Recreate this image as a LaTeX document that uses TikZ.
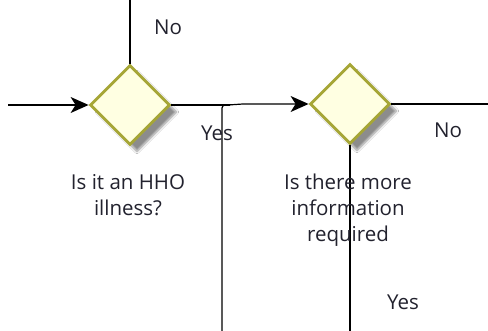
\documentclass[tikz,border=0pt]{standalone}
\usepackage{fontspec}
\setmainfont{Open Sans}
\usetikzlibrary{shapes.geometric,arrows.meta,shadows.blur}
\definecolor{dfill}{HTML}{FFFFE2}
\definecolor{dline}{HTML}{A6A636}
\definecolor{txt}{HTML}{22222E}
\tikzset{
  decision/.style={diamond,draw=dline,fill=dfill,line width=2.8pt,minimum width=80pt,minimum height=80pt,inner sep=0pt,
     blur shadow={shadow xshift=7pt,shadow yshift=-7pt,shadow blur steps=8,shadow opacity=45}},
  flow/.style={draw=black,line width=1.2pt},
  arr/.style={flow,-{Stealth[length=18pt,width=16pt,inset=5pt]}},
  lbl/.style={text=txt,font=\fontsize{20.5}{26}\selectfont,align=center,inner sep=0pt},
}
\begin{document}
\begin{tikzpicture}[x=1pt,y=1pt]
\useasboundingbox (0,0) rectangle (488,331);
\fill[white] (0,0) rectangle (488,331);
% decisions
\node[decision] (d1) at (130,226) {};
\node[decision] (d2) at (350,227) {};
% free ends
\coordinate (in) at (8,226);
\coordinate (top1) at (130,331);
\coordinate (out2) at (488,227);
\coordinate (bot2) at (350,0);
\coordinate (bot3) at (222,0);
\coordinate (join) at (230,226);
% connectors
\draw[flow] (d1.north) -- (top1);
\draw[arr] (in) -- (d1.west);
\draw[flow] (d1.east) -- (join);
\draw[arr] (join) -- (228,226) -- (243,227) -- (d2.west);
\draw[flow,rounded corners=3pt] (bot3) |- (join);
\draw[flow] (d2.east) -- (out2);
\draw[flow] (d2.south) -- (bot2);
% labels
\node[lbl] (no1) at (168,304) {No};
\node[lbl] (yes1) at (217,198) {Yes};
\node[lbl] (no2) at (448,201) {No};
\node[lbl] (yes2) at (403,29) {Yes};
\node[lbl,anchor=north] (q1) at (128,157) {Is it an HHO\\illness?};
\node[lbl,anchor=north] (q2) at (348,157) {Is there more\\information\\required};
\end{tikzpicture}
\end{document}
